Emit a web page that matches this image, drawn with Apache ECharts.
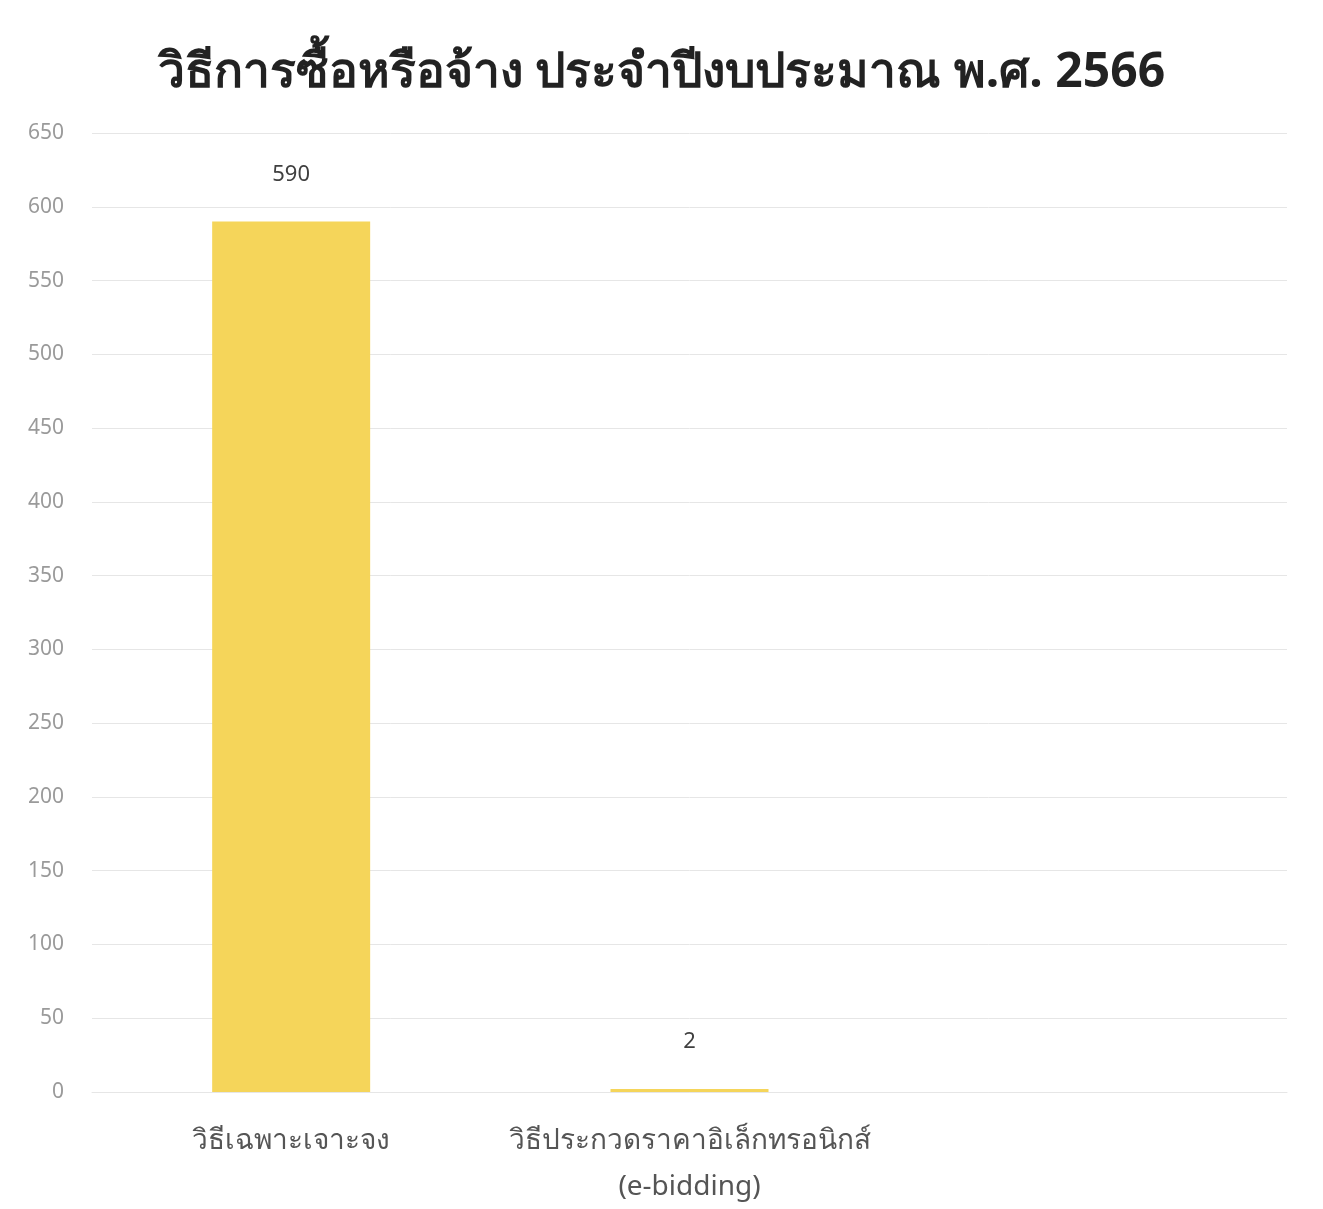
<!DOCTYPE html>
<html>
<head>
<meta charset="utf-8">
<script src="https://cdn.jsdelivr.net/npm/echarts@6/dist/echarts.min.js"></script>
<style>
  html, body { margin: 0; padding: 0; background: #fff; }
  #chart { width: 1323px; height: 1209px; }
</style>
</head>
<body>
<div id="chart"></div>
<script>
// ข้อมูลกราฟ
const categories = ['วิธีเฉพาะเจาะจง', 'วิธีประกวดราคาอิเล็กทรอนิกส์\n(e-bidding)', ''];
const counts = [590, 2, null];
const yTicks = { min: 0, max: 650, interval: 50 };

const chart = echarts.init(document.getElementById('chart'));

chart.setOption({
  backgroundColor: '#ffffff',
  title: {
    text: 'วิธีการซื้อหรือจ้าง ประจำปีงบประมาณ พ.ศ. 2566',
    left: 'center',
    top: 44,
    textStyle: {
      fontFamily: 'Noto Sans, sans-serif',
      fontSize: 48,
      fontWeight: 'bold',
      color: '#222'
    }
  },
  grid: {
    left: 92,
    right: 36,
    top: 133,
    bottom: 117,
    outerBoundsMode: 'none',
    containLabel: false
  },
  xAxis: {
    type: 'category',
    data: categories,
    axisLine: { show: true, lineStyle: { color: '#e6e6e6' } },
    axisTick: { show: false },
    axisLabel: {
      interval: 0,
      margin: 26,
      fontSize: 28,
      lineHeight: 46,
      color: '#555',
      fontFamily: 'Noto Sans, sans-serif'
    }
  },
  yAxis: {
    type: 'value',
    min: yTicks.min,
    max: yTicks.max,
    interval: yTicks.interval,
    axisLine: { show: false },
    axisTick: { show: false },
    axisLabel: {
      margin: 28,
      fontSize: 21,
      color: '#9a9a9a',
      fontFamily: 'Noto Sans, sans-serif'
    },
    splitLine: { lineStyle: { color: '#e6e6e6', width: 1 } }
  },
  series: [{
    name: 'จำนวน',
    type: 'bar',
    data: counts,
    barWidth: 158,
    itemStyle: { color: '#f5d55a' },
    label: {
      show: true,
      position: 'top',
      distance: 36,
      fontSize: 22,
      color: '#404040',
      fontFamily: 'Noto Sans, sans-serif'
    }
  }]
});
</script>
</body>
</html>
